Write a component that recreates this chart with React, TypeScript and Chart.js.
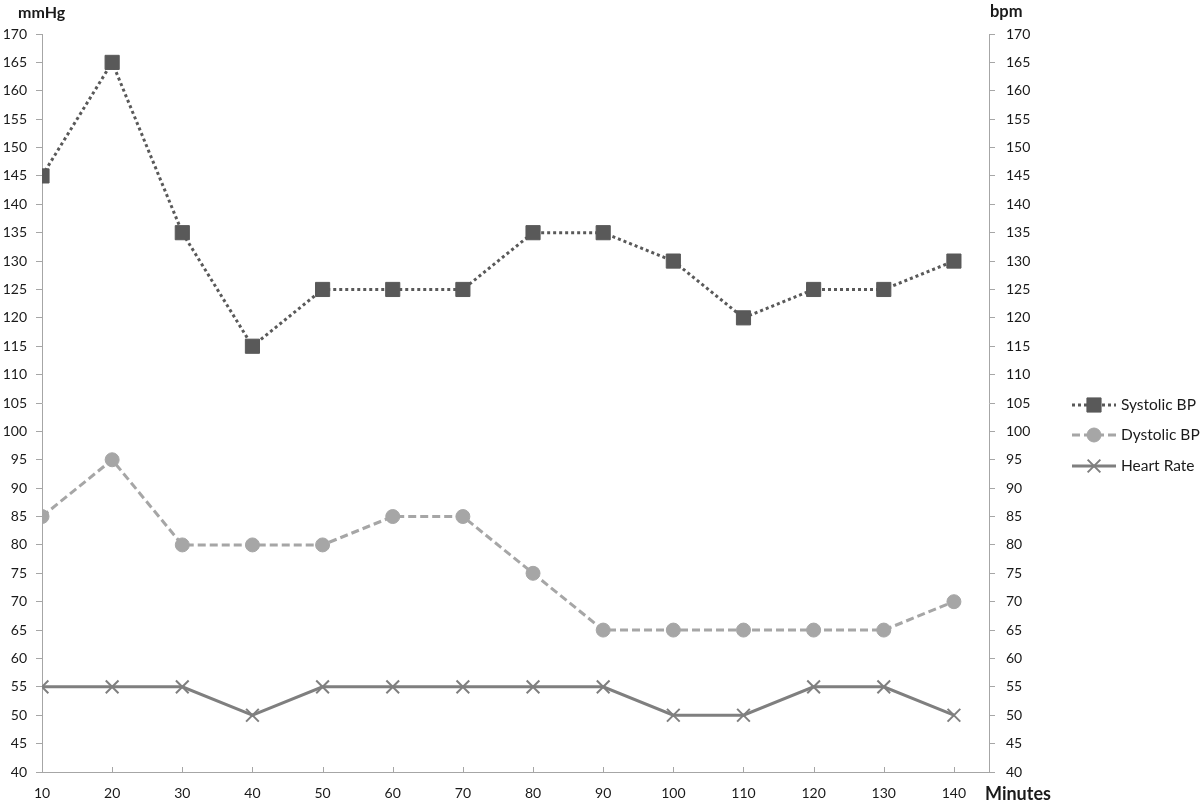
import React, { useEffect, useRef } from "react";
import { Chart, registerables } from "chart.js";
import { drawPoint } from "chart.js/helpers";

Chart.register(...registerables);

const minutes = [10, 20, 30, 40, 50, 60, 70, 80, 90, 100, 110, 120, 130, 140];
const systolic = [145, 165, 135, 115, 125, 125, 125, 135, 135, 130, 120, 125, 125, 130];
const diastolic = [85, 95, 80, 80, 80, 85, 85, 75, 65, 65, 65, 65, 65, 70];
const heartRate = [55, 55, 55, 50, 55, 55, 55, 55, 55, 50, 50, 55, 55, 50];
const seriesNames = ["Systolic BP", "Dystolic BP", "Heart Rate"];
const leftTitle = "mmHg";
const rightTitle = "bpm";
const xTitle = "Minutes";

const FONT = "Lato, 'Open Sans', sans-serif";
const AXIS = "#a6a6a6";
const TEXT = "#1a1a1a";

const toXY = (vals: number[]) => vals.map((v, i) => ({ x: minutes[i], y: v }));

const decorPlugin = {
  id: "decor",
  afterDraw(chart: any) {
    const { ctx, chartArea, scales } = chart;
    const xs = scales.x;
    ctx.save();
    // inside tick marks on x axis
    ctx.strokeStyle = AXIS;
    ctx.lineWidth = 1;
    xs.ticks.forEach((t: any) => {
      const px = Math.round(xs.getPixelForValue(t.value)) + 0.5;
      ctx.beginPath();
      ctx.moveTo(px, chartArea.bottom);
      ctx.lineTo(px, chartArea.bottom - 5);
      ctx.stroke();
    });
    // titles
    ctx.fillStyle = TEXT;
    ctx.textBaseline = "middle";
    ctx.textAlign = "left";
    ctx.font = `bold 16px ${FONT}`;
    ctx.fillText(leftTitle, 18, 13);
    ctx.font = `bold 16.5px ${FONT}`;
    ctx.fillText(rightTitle, chartArea.right + 1, 12);
    ctx.font = `bold 18px ${FONT}`;
    ctx.fillText(xTitle, chartArea.right - 4, chartArea.bottom + 22);
    // legend
    const lx = chartArea.right + 83;
    const rows = [405, 435, 466];
    chart.data.datasets.forEach((ds: any, i: number) => {
      const y = rows[i];
      ctx.save();
      ctx.strokeStyle = ds.borderColor;
      ctx.lineWidth = ds.borderWidth;
      ctx.setLineDash(ds.borderDash || []);
      ctx.beginPath();
      ctx.moveTo(lx, y);
      ctx.lineTo(lx + 44, y);
      ctx.stroke();
      ctx.restore();
      ctx.save();
      ctx.fillStyle = ds.pointBackgroundColor;
      ctx.strokeStyle = ds.pointBorderColor;
      ctx.lineWidth = ds.pointBorderWidth;
      drawPoint(ctx, { pointStyle: ds.pointStyle, radius: ds.pointRadius, rotation: 0, borderWidth: ds.pointBorderWidth }, lx + 22, y);
      ctx.restore();
      ctx.fillStyle = TEXT;
      ctx.font = `15.5px ${FONT}`;
      ctx.textAlign = "left";
      ctx.fillText(seriesNames[i], lx + 49, y);
    });
    ctx.restore();
  },
};

export default function App() {
  const ref = useRef<HTMLCanvasElement>(null);
  useEffect(() => {
    if (!ref.current) return;
    const yTicks = {
      stepSize: 5,
      color: TEXT,
      font: { family: FONT, size: 14 },
    };
    const chart = new Chart(ref.current, {
      type: "line",
      data: {
        datasets: [
          {
            label: seriesNames[0],
            data: toXY(systolic),
            yAxisID: "y",
            borderColor: "#595959",
            borderWidth: 3,
            borderDash: [3, 3],
            pointStyle: "rect",
            pointRadius: 10,
            pointBackgroundColor: "#595959",
            pointBorderColor: "#595959",
            pointBorderWidth: 1,
          },
          {
            label: seriesNames[1],
            data: toXY(diastolic),
            yAxisID: "y",
            borderColor: "#a6a6a6",
            borderWidth: 3,
            borderDash: [8, 4],
            pointStyle: "circle",
            pointRadius: 7,
            pointBackgroundColor: "#a6a6a6",
            pointBorderColor: "#a6a6a6",
            pointBorderWidth: 1,
          },
          {
            label: seriesNames[2],
            data: toXY(heartRate),
            yAxisID: "y1",
            borderColor: "#7f7f7f",
            borderWidth: 3,
            borderDash: [],
            pointStyle: "crossRot",
            pointRadius: 9,
            pointBackgroundColor: "#7f7f7f",
            pointBorderColor: "#7f7f7f",
            pointBorderWidth: 2,
          },
        ] as any,
      },
      options: {
        animation: false,
        responsive: false,
        maintainAspectRatio: false,
        layout: { padding: { top: 34, left: 0, right: 0, bottom: 0 } },
        plugins: { legend: { display: false }, tooltip: { enabled: false } },
        events: [],
        scales: {
          x: {
            type: "linear",
            min: 10,
            max: 145,
            border: { color: AXIS, width: 1 },
            grid: { drawOnChartArea: false, drawTicks: false },
            ticks: {
              stepSize: 10,
              includeBounds: false,
              padding: 13,
              color: TEXT,
              font: { family: FONT, size: 14 },
              maxRotation: 0,
            },
            afterFit: (s: any) => {
              s.height = 31;
            },
          },
          y: {
            position: "left",
            min: 40,
            max: 170,
            border: { color: AXIS, width: 1 },
            grid: { drawOnChartArea: false, drawTicks: true, tickLength: 6, color: AXIS },
            ticks: { ...yTicks, padding: 9 },
            afterFit: (s: any) => {
              s.width = 42;
            },
          },
          y1: {
            position: "right",
            min: 40,
            max: 170,
            border: { color: AXIS, width: 1 },
            grid: { drawOnChartArea: false, drawTicks: true, tickLength: 6, color: AXIS },
            ticks: { ...yTicks, padding: 11 },
            afterFit: (s: any) => {
              s.width = 211;
            },
          },
        },
      } as any,
      plugins: [decorPlugin],
    });
    return () => chart.destroy();
  }, []);
  return (
    <div style={{ position: "fixed", left: 0, top: 0, width: 1200, height: 803, background: "#fff" }}>
      <canvas ref={ref} width={1200} height={803} style={{ width: 1200, height: 803 }} />
    </div>
  );
}
